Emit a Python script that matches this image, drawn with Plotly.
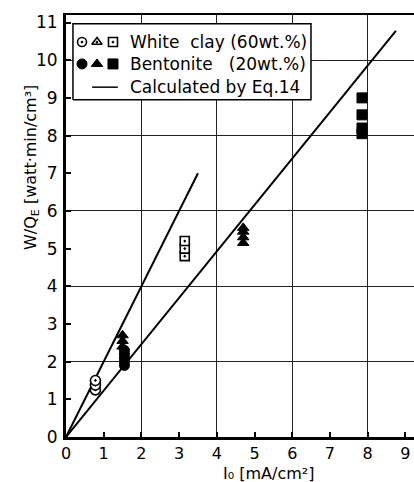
import plotly.graph_objects as go

# ---------------- data ----------------
wc_circle_x = [0.78, 0.78, 0.78]
wc_circle_y = [1.25, 1.38, 1.5]
wc_square_x = [3.15, 3.15, 3.15]
wc_square_y = [4.8, 5.0, 5.2]

bt_circle_x = [1.55, 1.55, 1.55, 1.55, 1.55]
bt_circle_y = [1.9, 2.0, 2.1, 2.2, 2.3]
bt_tri_x = [1.5, 1.5, 1.5]
bt_tri_y = [2.4, 2.55, 2.7]
bt_tri2_x = [4.7, 4.7, 4.7, 4.7]
bt_tri2_y = [5.15, 5.3, 5.45, 5.55]
bt_square_x = [7.85, 7.85, 7.85, 7.85]
bt_square_y = [8.05, 8.2, 8.55, 9.0]

calc1_x = [0, 3.5]
calc1_y = [0, 7.0]
calc2_x = [0, 8.75]
calc2_y = [0, 10.78]

x_ticks = list(range(0, 10))
y_ticks = list(range(0, 12))
x_grid = [2, 4, 6, 8]
y_grid = [2, 4, 6, 8, 10]

legend_labels = ["White  clay (60wt.%)", "Bentonite   (20wt.%)", "Calculated by Eq.14"]

XR = [0, 9.23]
YR = [0, 11.2]
FONT = "DejaVu Sans"

fig = go.Figure()

# grid/top-frame helper trace on overlay axes
fig.add_trace(go.Scatter(x=[None], y=[None], xaxis="x3", yaxis="y3",
                         showlegend=False, hoverinfo="skip"))

# calculated lines
for lx, ly in [(calc1_x, calc1_y), (calc2_x, calc2_y)]:
    fig.add_trace(go.Scatter(x=lx, y=ly, mode="lines",
                             line=dict(color="black", width=2), showlegend=False))

open_m = dict(color="white", line=dict(color="black", width=1.6))
fill_m = dict(color="black", line=dict(color="black", width=1))

fig.add_trace(go.Scatter(x=wc_circle_x, y=wc_circle_y, mode="markers",
                         marker=dict(symbol="circle-dot", size=10, **open_m), showlegend=False))
fig.add_trace(go.Scatter(x=wc_square_x, y=wc_square_y, mode="markers",
                         marker=dict(symbol="square-dot", size=9, **open_m), showlegend=False))
fig.add_trace(go.Scatter(x=bt_circle_x, y=bt_circle_y, mode="markers",
                         marker=dict(symbol="circle", size=10, **fill_m), showlegend=False))
fig.add_trace(go.Scatter(x=bt_tri_x, y=bt_tri_y, mode="markers",
                         marker=dict(symbol="triangle-up", size=10, **fill_m), showlegend=False))
fig.add_trace(go.Scatter(x=bt_tri2_x, y=bt_tri2_y, mode="markers",
                         marker=dict(symbol="triangle-up", size=10, **fill_m), showlegend=False))
fig.add_trace(go.Scatter(x=bt_square_x, y=bt_square_y, mode="markers",
                         marker=dict(symbol="square", size=10, **fill_m), showlegend=False))

# ---- custom legend (on hidden paper-like axes) ----
box_x = [0.02, 0.704, 0.704, 0.02, 0.02]
box_y = [0.799, 0.799, 0.979, 0.979, 0.799]
fig.add_trace(go.Scatter(x=box_x, y=box_y, xaxis="x2", yaxis="y2", mode="lines",
                         fill="toself", fillcolor="white",
                         line=dict(color="black", width=1.5), showlegend=False,
                         hoverinfo="skip"))
rows = [0.936, 0.884, 0.829]
sym_x = [0.046, 0.089, 0.135]
fig.add_trace(go.Scatter(x=sym_x, y=[rows[0]] * 3, xaxis="x2", yaxis="y2", mode="markers",
                         marker=dict(symbol=["circle-dot", "triangle-up-dot", "square-dot"],
                                     size=9, **open_m), showlegend=False))
fig.add_trace(go.Scatter(x=sym_x, y=[rows[1]] * 3, xaxis="x2", yaxis="y2", mode="markers",
                         marker=dict(symbol=["circle", "triangle-up", "square"],
                                     size=10, **fill_m), showlegend=False))
fig.add_trace(go.Scatter(x=[0.075, 0.149], y=[rows[2]] * 2, xaxis="x2", yaxis="y2", mode="lines",
                         line=dict(color="black", width=1.5), showlegend=False))

for lbl, ry in zip(legend_labels, rows):
    fig.add_annotation(x=0.178, y=ry, xref="x2", yref="y2", text=lbl, showarrow=False,
                       xanchor="left", yanchor="middle",
                       font=dict(family=FONT, size=17, color="black"))

# axis titles
fig.add_annotation(x=(31 - 66) / 348, y=(437 - 168) / 422, xref="paper", yref="paper",
                   text="W/Q<sub>E</sub> [watt·min/cm³]", textangle=-90, showarrow=False,
                   xanchor="center", yanchor="middle",
                   font=dict(family=FONT, size=16, color="black"))
fig.add_annotation(x=(268 - 66) / 348, y=-(473 - 437) / 422, xref="paper", yref="paper",
                   text="I₀ [mA/cm²]", showarrow=False,
                   xanchor="center", yanchor="middle",
                   font=dict(family=FONT, size=16, color="black"))

fig.update_layout(
    width=414, height=482,
    margin=dict(l=66, r=0, t=15, b=45),
    paper_bgcolor="white", plot_bgcolor="white",
    showlegend=False,
    xaxis=dict(range=XR, tickmode="array", tickvals=x_ticks, ticks="inside", ticklen=5,
               tickwidth=1.5, tickcolor="black", showgrid=False, zeroline=False,
               showline=True, linecolor="black", linewidth=3, ticklabelstandoff=0,
               tickfont=dict(family=FONT, size=16, color="black")),
    yaxis=dict(range=YR, tickmode="array", tickvals=y_ticks, ticks="inside", ticklen=5,
               tickwidth=1.5, tickcolor="black", showgrid=False, zeroline=False,
               showline=True, linecolor="black", linewidth=3, ticklabelstandoff=2,
               tickfont=dict(family=FONT, size=17, color="black")),
    xaxis3=dict(range=XR, overlaying="x", side="top", tickmode="array", tickvals=x_grid,
                showticklabels=False, ticks="", showgrid=True, gridcolor="#222",
                gridwidth=1.3, zeroline=False, showline=True, linecolor="black", linewidth=2),
    yaxis3=dict(range=YR, overlaying="y", side="right", tickmode="array", tickvals=y_grid,
                showticklabels=False, ticks="", showgrid=True, gridcolor="#222",
                gridwidth=1.3, zeroline=False, showline=False),
    xaxis2=dict(range=[0, 1], overlaying="x", visible=False),
    yaxis2=dict(range=[0, 1], overlaying="y", visible=False),
)

fig.write_html("out.html")
